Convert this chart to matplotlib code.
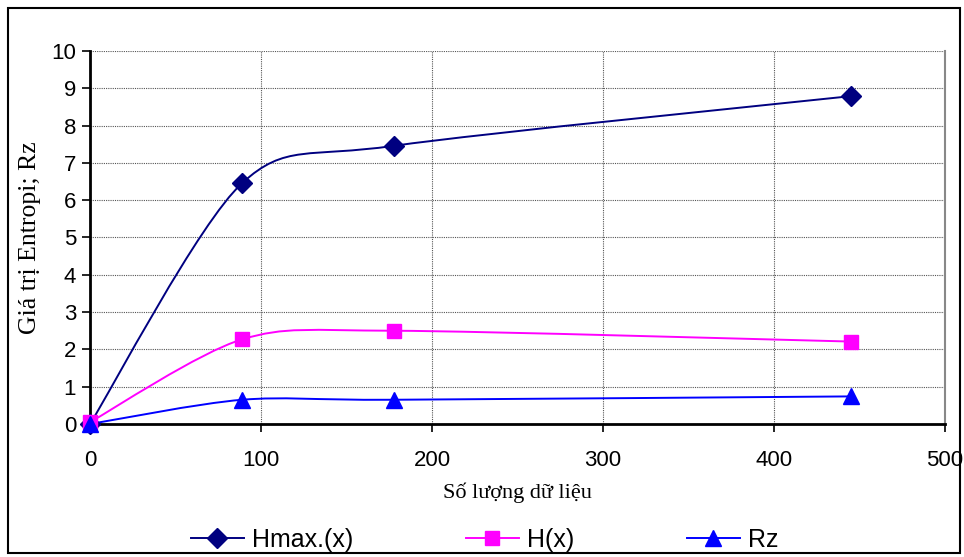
import matplotlib.pyplot as plt
from matplotlib.path import Path
from matplotlib.patches import PathPatch, Rectangle
from matplotlib.lines import Line2D

# dados
so_luong = [0, 89, 178, 445]
hmax = [0.0, 6.46, 7.46, 8.79]
hx = [0.05, 2.27, 2.50, 2.21]
rz = [0.0, 0.65, 0.65, 0.74]

nhan_x = "Số lượng dữ liệu"
nhan_y = "Giá trị Entropi; Rz"
ten_chuoi = ["Hmax.(x)", "H(x)", "Rz"]
mau = ["#000080", "#FF00FF", "#0000FF"]
diem = ["D", "s", "^"]
co_diem = [10, 10, 12]


# curva suavizada estilo Excel (bezier cubica passando pelos pontos)
def duong_muot(xs, ys, k=1 / 7):
    pts = list(zip(xs, ys))
    n = len(pts)
    verts = [pts[0]]
    codes = [Path.MOVETO]
    for i in range(n - 1):
        p0 = pts[i - 1] if i > 0 else pts[i]
        p1 = pts[i]
        p2 = pts[i + 1]
        p3 = pts[i + 2] if i + 2 < n else pts[i + 1]
        c1 = (p1[0] + (p2[0] - p0[0]) * k, p1[1] + (p2[1] - p0[1]) * k)
        c2 = (p2[0] - (p3[0] - p1[0]) * k, p2[1] - (p3[1] - p1[1]) * k)
        verts += [c1, c2, p2]
        codes += [Path.CURVE4] * 3
    return Path(verts, codes)


fig = plt.figure(figsize=(9.64, 5.57), dpi=100)
ax = fig.add_axes([90 / 964, 1 - 424 / 557, 855 / 964, 373 / 557])

for xs, ys, c, m, ms in zip([so_luong] * 3, [hmax, hx, rz], mau, diem, co_diem):
    ax.add_patch(PathPatch(duong_muot(xs, ys), facecolor="none",
                           edgecolor=c, linewidth=1.4, zorder=3))
    ax.plot(xs, ys, linestyle="none", marker=m, markersize=ms,
            color=c, markeredgecolor=c, zorder=4, clip_on=False)

ax.set_xlim(0, 500)
ax.set_ylim(0, 10)
ax.set_xticks(range(0, 501, 100))
ax.set_yticks(range(0, 11))
ax.grid(True, color="#555555", linestyle=(0, (1, 1)), linewidth=0.8)
ax.set_axisbelow(True)

ax.spines["left"].set_linewidth(2)
ax.spines["bottom"].set_linewidth(2)
ax.spines["right"].set_color("#888888")
ax.spines["right"].set_linewidth(1.5)
ax.spines["top"].set_visible(False)

ax.tick_params(axis="both", direction="out", length=6, width=1.2,
               labelsize=16, pad=4)
ax.tick_params(axis="x", pad=13)
for t in ax.get_xticklabels() + ax.get_yticklabels():
    t.set_family("Liberation Sans")

fig.text(30 / 964, 1 - 238 / 557, nhan_y, rotation=90, ha="center", va="center",
         family="Liberation Serif", fontsize=18.5)
fig.text(517 / 964, 1 - 493 / 557, nhan_x, ha="center", va="center",
         family="Liberation Serif", fontsize=16)

handles = [Line2D([], [], color=c, marker=m, markersize=ms, linewidth=1.4)
           for c, m, ms in zip(mau, diem, co_diem)]
fig.legend(handles, ten_chuoi, loc="center", bbox_to_anchor=(485 / 964, 1 - 540 / 557),
           ncol=3, frameon=False, handlelength=2.1, handletextpad=0.35,
           columnspacing=4.5, prop={"family": "Liberation Sans", "size": 18})

# moldura externa
fig.patches.append(Rectangle((8 / 964, 4 / 557), 952 / 964, 545 / 557,
                             transform=fig.transFigure, fill=False,
                             edgecolor="black", linewidth=1.5))

fig.savefig("out.png", dpi=100)
